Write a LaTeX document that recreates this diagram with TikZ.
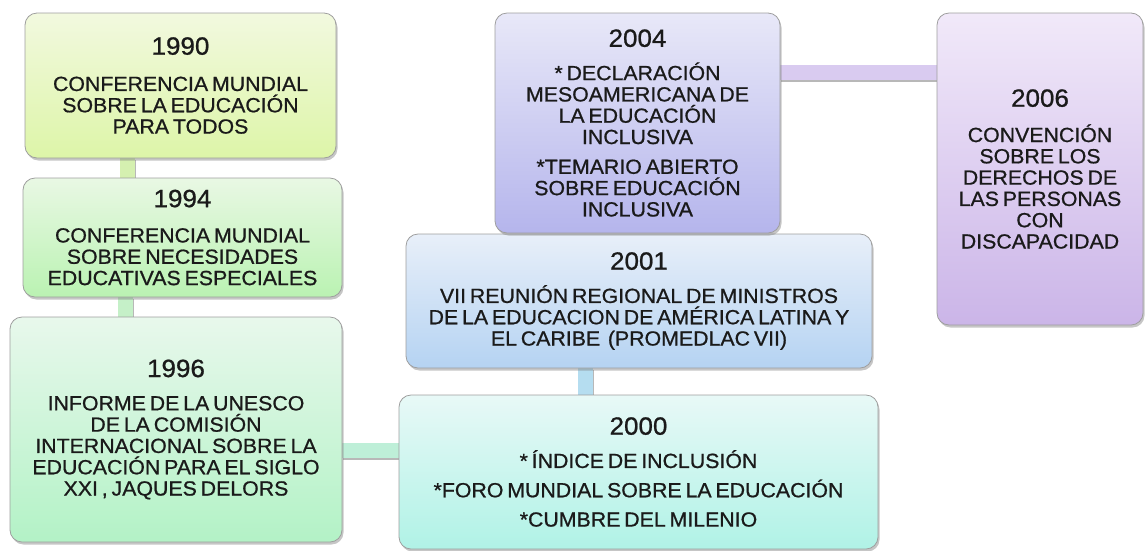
\documentclass[tikz,border=0pt]{standalone}
\usepackage{fontspec}
\newfontfamily\arialx{Liberation Sans}[FakeStretch=1.04, WordSpace=0.65, RawFeature={embolden=0.8}]
\usetikzlibrary{shadows,backgrounds}
\newcommand\yr[1]{{\fontsize{25}{28}\selectfont #1}}
\definecolor{c90t}{HTML}{F2F9DF}\definecolor{c90b}{HTML}{DDF5A8}
\definecolor{c94t}{HTML}{E9F8E4}\definecolor{c94b}{HTML}{BAF2B2}
\definecolor{c96t}{HTML}{E8F8EC}\definecolor{c96b}{HTML}{B3F2C6}
\definecolor{c00t}{HTML}{E8F9F7}\definecolor{c00b}{HTML}{B0F2E6}
\definecolor{c01t}{HTML}{E8EFF9}\definecolor{c01b}{HTML}{B5D3F2}
\definecolor{c04t}{HTML}{E8E8F8}\definecolor{c04b}{HTML}{B5B5EC}
\definecolor{c06t}{HTML}{F1E9F9}\definecolor{c06b}{HTML}{CBB5E8}
\definecolor{k1}{HTML}{D5F0B0}\definecolor{k2}{HTML}{C5F0C8}
\definecolor{k3}{HTML}{BEEFD8}\definecolor{k4}{HTML}{B5DDF0}
\definecolor{k5}{HTML}{D9CBF0}
\definecolor{txt}{HTML}{1A1A1A}
\tikzset{
  box/.style={draw=black!38, line width=0.8pt, rounded corners=12pt,
    inner sep=0pt, outer sep=0pt, align=center, text=txt,
    font=\arialx\fontsize{20.5}{21.3}\selectfont,
    drop shadow={shadow xshift=1.5pt, shadow yshift=-2.5pt, opacity=0.45, fill=black!50}},
  conn/.style={line width=15pt,
    preaction={draw=black!28, line width=15pt, transform canvas={xshift=1.2pt,yshift=-2pt}}}
}
\begin{document}
\begin{tikzpicture}[x=1pt,y=-1pt]
\useasboundingbox (0,0) rectangle (1145,550);
\node[box, top color=c90t, bottom color=c90b, minimum width=311pt, minimum height=145pt] (b1990) at (180.5,85.5)
  {\yr{1990}\\[15pt]CONFERENCIA MUNDIAL\\SOBRE LA EDUCACIÓN\\PARA TODOS};
\node[box, top color=c94t, bottom color=c94b, minimum width=319pt, minimum height=119pt] (b1994) at (182.5,237.5)
  {\yr{1994}\\[14pt]CONFERENCIA MUNDIAL\\SOBRE NECESIDADES\\EDUCATIVAS ESPECIALES};
\node[box, top color=c96t, bottom color=c96b, minimum width=332pt, minimum height=225pt] (b1996) at (176,429.5)
  {\yr{1996}\\[12pt]INFORME DE LA UNESCO\\DE LA COMISIÓN\\INTERNACIONAL SOBRE LA\\EDUCACIÓN PARA EL SIGLO\\XXI , JAQUES DELORS};
\node[box, top color=c00t, bottom color=c00b, minimum width=479pt, minimum height=154pt] (b2000) at (638.5,472)
  {\yr{2000}\\[12pt]* ÍNDICE DE INCLUSIÓN\\[8pt]*FORO MUNDIAL SOBRE LA EDUCACIÓN\\[8pt]*CUMBRE DEL MILENIO};
\node[box, top color=c01t, bottom color=c01b, minimum width=466pt, minimum height=134pt] (b2001) at (639,301)
  {\yr{2001}\\[12pt]VII REUNIÓN REGIONAL DE MINISTROS\\DE LA EDUCACION DE AMÉRICA LATINA Y\\EL CARIBE\ \ (PROMEDLAC VII)};
\node[box, top color=c04t, bottom color=c04b, minimum width=285pt, minimum height=220pt] (b2004) at (637.5,123)
  {\yr{2004}\\[12pt]* DECLARACIÓN\\MESOAMERICANA DE\\LA EDUCACIÓN\\INCLUSIVA\\[8.5pt]*TEMARIO ABIERTO\\SOBRE EDUCACIÓN\\INCLUSIVA};
\node[box, top color=c06t, bottom color=c06b, minimum width=206pt, minimum height=312pt] (b2006) at (1040,169)
  {\yr{2006}\\[14pt]CONVENCIÓN\\SOBRE LOS\\DERECHOS DE\\LAS PERSONAS\\CON\\DISCAPACIDAD};
\begin{scope}[on background layer]
\draw[conn, draw=k1] ([xshift=-53pt]b1990.south) -- ([xshift=-53pt]b1990.south |- b1994.north);
\draw[conn, draw=k2] ([xshift=-57.5pt]b1994.south) -- ([xshift=-57.5pt]b1994.south |- b1996.north);
\draw[conn, draw=k3] ([yshift=-20.5pt]b1996.east) -- ([yshift=-20.5pt]b1996.east -| b2000.west);
\draw[conn, draw=k4] ([xshift=-54pt]b2001.south) -- ([xshift=-54pt]b2001.south |- b2000.north);
\draw[conn, draw=k5] ([yshift=51pt]b2004.east) -- ([yshift=51pt]b2004.east -| b2006.west);
\end{scope}
\end{tikzpicture}
\end{document}
